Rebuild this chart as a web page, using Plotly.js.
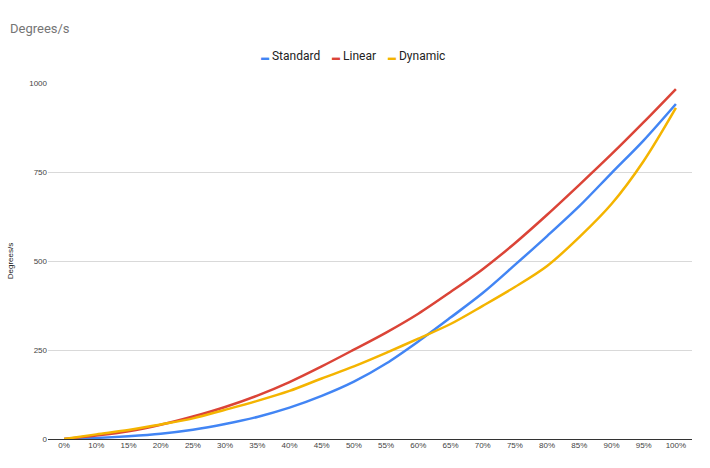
<!DOCTYPE html>
<html>
<head>
<meta charset="utf-8">
<script src="https://cdn.plot.ly/plotly-3.0.1.min.js"></script>
<style>html,body{margin:0;padding:0;background:#fff;}#chart{width:710px;height:468px;}</style>
</head>
<body>
<div id="chart"></div>
<script>
const categories = ['0%','10%','15%','20%','25%','30%','35%','40%','45%','50%','55%','60%','65%','70%','75%','80%','85%','90%','95%','100%'];
const standard = [0,3,8,15,26,42,62,88,121,161,212,274,341,410,489,570,654,747,839,941];
const linear   = [0,10,22,40,63,90,122,160,204,251,299,352,413,477,550,630,714,800,890,983];
const dynamic  = [0,13,25,41,58,82,107,135,170,204,242,282,323,374,427,486,567,660,781,930];
const seriesNames = ['Standard','Linear','Dynamic'];
const seriesColors = ['#4285F4','#DB4437','#F4B400'];
const yTicks = [0,250,500,750,1000];

const seriesData = [standard, linear, dynamic];
const traces = seriesData.map((d,i)=>({
  type:'scatter', mode:'lines', name:seriesNames[i], x:categories, y:d,
  line:{color:seriesColors[i], width:2.5, shape:'spline', smoothing:0.9},
  hoverinfo:'skip'
}));

const legendText = seriesNames.map((n,i)=>
  '<span style="color:'+seriesColors[i]+';font-size:8px"><b>▬</b></span> '+n).join('&nbsp;&nbsp;&nbsp;&nbsp;');

const layout = {
  width:710, height:468,
  margin:{l:48, r:18, t:83, b:29},
  paper_bgcolor:'#fff', plot_bgcolor:'#fff',
  showlegend:false,
  font:{family:'Roboto, Arial, sans-serif', color:'#222'},
  title:{text:'Degrees/s', x:10/710, xanchor:'left', xref:'container', y:1-28/468, yanchor:'middle', yref:'container',
    font:{family:'Roboto, Arial, sans-serif', size:13, color:'#757575'}},
  xaxis:{type:'category', range:[-0.5,19.5], showgrid:false, zeroline:false, showline:false,
    ticks:'', tickfont:{family:'Liberation Sans, Arial, sans-serif', size:8, color:'#444'}, fixedrange:true},
  yaxis:{range:[0,1000], tickvals:yTicks, ticktext:yTicks.map(String), showgrid:true, gridcolor:'#d9d9d9', gridwidth:1,
    zeroline:true, zerolinecolor:'#333', zerolinewidth:1, showline:false, ticks:'',
    tickfont:{family:'Liberation Sans, Arial, sans-serif', size:8, color:'#444'},
    title:{text:'Degrees/s', standoff:14, font:{family:'Liberation Sans, Arial, sans-serif', size:8, color:'#222'}}, fixedrange:true},
  annotations:[{
    text:legendText, xref:'paper', yref:'paper', x:(353-48)/644, y:1+(83-56)/356,
    xanchor:'center', yanchor:'middle', showarrow:false,
    font:{family:'Roboto, Arial, sans-serif', size:12, color:'#222'}
  }]
};
Plotly.newPlot('chart', traces, layout, {staticPlot:true, displayModeBar:false});
</script>
</body>
</html>
